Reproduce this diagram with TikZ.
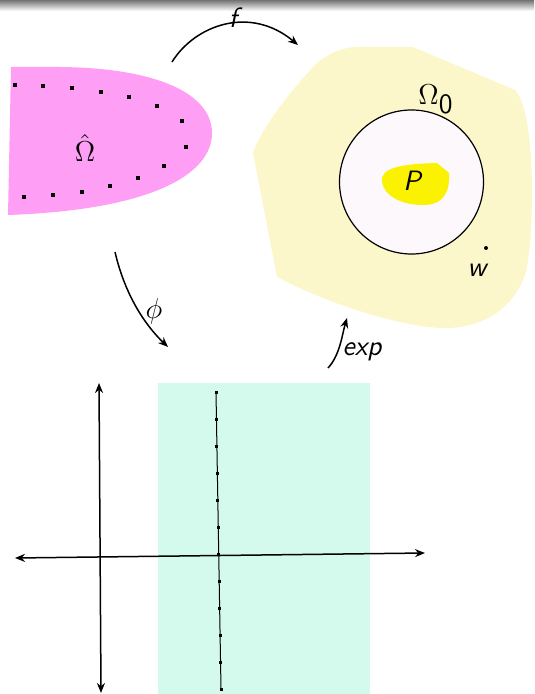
\documentclass[tikz,border=0pt]{standalone}
\usepackage{fontspec}
\usetikzlibrary{arrows.meta}
\definecolor{pinkreg}{RGB}{255,158,245}
\definecolor{yelreg}{RGB}{252,247,203}
\definecolor{discfill}{RGB}{253,248,251}
\definecolor{pyel}{RGB}{250,242,0}
\definecolor{cyanreg}{RGB}{212,250,238}
\tikzset{
  arr/.style={line width=0.75pt,-{Stealth[length=5pt,width=4pt]}},
  axis/.style={line width=0.75pt,{Stealth[length=5pt,width=4pt]}-{Stealth[length=5pt,width=4pt]}},
  lbl/.style={inner sep=0pt,font=\fontsize{14}{17}\selectfont\sffamily\itshape},
  mlbl/.style={inner sep=0pt,font=\fontsize{14}{17}\selectfont},
  sq/.style={fill=black}
}
\begin{document}
\begin{tikzpicture}[x=0.5pt,y=-0.5pt]
\useasboundingbox (0,0) rectangle (534,694);
\shade[top color=black!55, bottom color=white] (0,0) rectangle (534,11);
% pink region
\fill[pinkreg] (11,67) -- (60,67) .. controls (160,68) and (212,95) .. (212,133)
  .. controls (212,175) and (150,210) .. (8,215) -- cycle;
\foreach \p in {(15,85),(43,86),(72,88),(101,92),(129,97),(157,106),(182,121),
  (186,147),(164,166),(138,178),(110,186),(82,192),(53,195),(24,197)}
  \fill[sq] \p +(-1.6,-1.6) rectangle +(1.6,1.6);
\node[mlbl] (omhat) at (85,148) {$\hat{\Omega}$};
% yellow region
\fill[yelreg] (253,153) .. controls (262,125) and (300,80) .. (317,63)
  .. controls (330,52) and (345,47) .. (357,47) -- (413,47) -- (515,90)
  .. controls (535,110) and (535,220) .. (527,267)
  .. controls (520,300) and (490,330) .. (440,328)
  .. controls (400,326) and (330,305) .. (277,277) -- cycle;
\draw[line width=0.6pt, fill=discfill] (411.5,182) circle[radius=72];
\fill[pyel] (382,182) .. controls (380,168) and (400,164) .. (437,163) -- (449,173)
  .. controls (450,190) and (445,205) .. (423,205)
  .. controls (400,205) and (384,195) .. (382,182) -- cycle;
\node[lbl] (P) at (412,181) {P};
\node[mlbl] (om0) at (436,99) {$\Omega_{\textsf{0}}$};
\fill (486,248) circle[radius=2];
\node[lbl] (w) at (477,270) {w};
% arrows
\coordinate (fs) at (172,62);
\coordinate (fe) at (298,45);
\draw[arr] (fs) .. controls (195,25) and (250,5) .. (fe);
\node[lbl] (f) at (233,18) {f};
\coordinate (ps) at (115,252);
\coordinate (pe) at (168,347);
\draw[arr] (ps) .. controls (125,295) and (145,325) .. (pe);
\node[mlbl] (phi) at (154,311) {$\phi$};
\coordinate (es) at (328,368);
\coordinate (ee) at (347,318);
\draw[arr] (es) .. controls (340,355) and (342,335) .. (ee);
\node[lbl] (exp) at (362,352) {exp};
% bottom
\fill[cyanreg] (158,383) rectangle (370,694);
\foreach \i in {0,...,11} \coordinate (d\i) at ({216+\i*5/11},{392+\i*27});
\draw[line width=0.5pt] (d0) -- (d11);
\foreach \i in {0,...,11} \fill[sq] (d\i) +(-1.5,-1.5) rectangle +(1.5,1.5);
\coordinate (vt) at (99,383);
\coordinate (vb) at (101,693);
\coordinate (hl) at (15,558);
\coordinate (hr) at (425,553);
\draw[axis] (vt) -- (vb);
\draw[axis] (hl) -- (hr);
\end{tikzpicture}
\end{document}
